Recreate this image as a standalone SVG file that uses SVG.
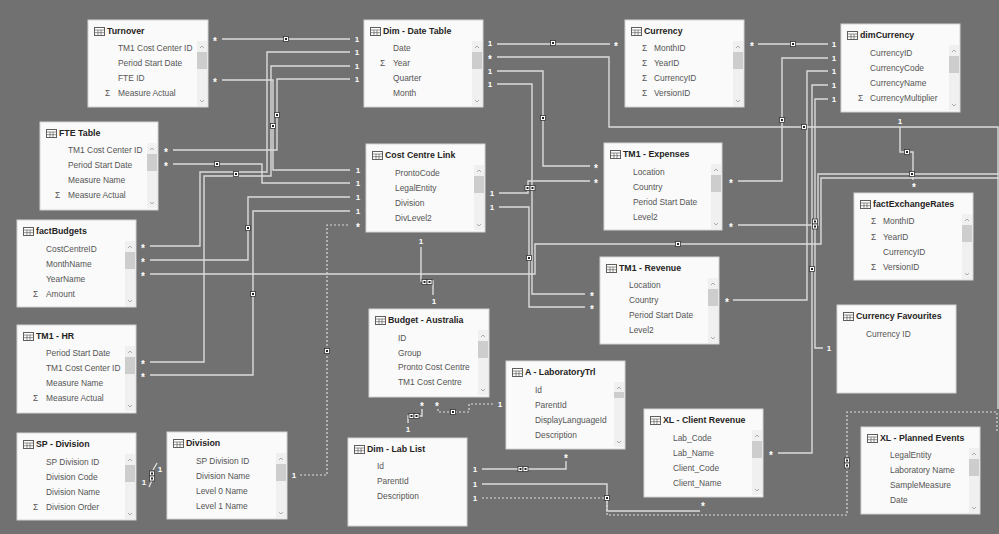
<svg xmlns="http://www.w3.org/2000/svg" width="999" height="534" viewBox="0 0 999 534">
<defs>
<style>
.bg{fill:#717171}
.box{fill:#fafafa;stroke:#d4d4d4;stroke-width:1}
.ttl{font-family:"Liberation Sans",Arial,sans-serif;font-weight:bold;font-size:8.8px;fill:#252423}
.f{font-family:"Liberation Sans",Arial,sans-serif;font-size:8.4px;fill:#555555}
.c{fill:none;stroke:#dcdcdc;stroke-width:1.4}
.d{fill:none;stroke:#dcdcdc;stroke-width:1.2;stroke-dasharray:2 2}
.lb{font-family:"Liberation Sans",Arial,sans-serif;font-weight:bold;font-size:8px;fill:#ffffff;text-anchor:middle}
.st{font-family:"Liberation Sans",Arial,sans-serif;font-weight:bold;font-size:10px;fill:#ffffff;text-anchor:middle}
</style>
<g id="ico">
<rect x="0.5" y="0.5" width="10" height="8" fill="#fff" stroke="#605e5c" stroke-width="1"/>
<path d="M0.5 3H10.5M0.5 5.7H10.5M4 3V8.5M7 3V8.5" stroke="#605e5c" stroke-width="0.7" fill="none"/>
</g>
<g id="sb">
<rect width="10" height="65" fill="#f0f0f0"/>
<rect y="11" width="10" height="17" fill="#cdcdcd"/>
<path d="M3 7L5 5L7 7" fill="none" stroke="#999" stroke-width="0.8"/>
<path d="M3 59L5 61L7 59" fill="none" stroke="#999" stroke-width="0.8"/>
</g>
<g id="mk"><rect x="-2.5" y="-2.5" width="5" height="5" fill="#fff" stroke="#333" stroke-width="0.8"/><rect x="-1" y="-1" width="2" height="2" fill="#222"/></g>
<g id="mk2"><use href="#mk" x="-2.5"/><use href="#mk" x="2.5"/></g>
<g id="mk2v"><use href="#mk" y="-2.5"/><use href="#mk" y="2.5"/></g>
</defs>
<rect class="bg" width="999" height="534"/>

<g id="connectors">
<path class="c" d="M222 39H350"/>
<path class="c" d="M222 80H273V170H350"/>
<path class="c" d="M173 150H277V79H350"/>
<path class="c" d="M173 164H262V183H350"/>
<path class="c" d="M150 246H200V172H267V52H350"/>
<path class="c" d="M150 362H204V176H271V66H350"/>
<path class="c" d="M150 260H248V197H350"/>
<path class="c" d="M150 375H253V211H350"/>
<path class="c" d="M150 274H535V244H821V178H999"/>
<path class="d" d="M300 475H327V225H350"/>
<path class="c" d="M149 487L152 480M153 470L157 463"/>
<path class="c" d="M497 44H610"/>
<path class="c" d="M497 57H609V127H998V409"/>
<path class="c" d="M497 71H543V166H590"/>
<path class="c" d="M497 84H532V294H585"/>
<path class="c" d="M499 193H528V181H590"/>
<path class="c" d="M499 207H529V307H585"/>
<path class="c" d="M421 247V281H433V295"/>
<path class="c" d="M422 409V416H408V423"/>
<path class="d" d="M438 409V412H469V404H495"/>
<path class="c" d="M482 469H566V461"/>
<path class="c" d="M482 484H607V511H700"/>
<path class="d" d="M482 498H607V515H847V412H997V431"/>
<path class="c" d="M758 44H828"/>
<path class="c" d="M828 58H782V181H738"/>
<path class="c" d="M828 71H807V300H733"/>
<path class="c" d="M828 85H812V453H778"/>
<path class="c" d="M828 99H815V348H823"/>
<path class="c" d="M900 127V152H913V180"/>
<path class="c" d="M738 225H818V174H999"/>
<use href="#mk" x="286" y="39"/>
<use href="#mk" x="273" y="126"/>
<use href="#mk" x="277" y="115"/>
<use href="#mk" x="217" y="164"/>
<use href="#mk" x="236" y="174"/>
<use href="#mk" x="248" y="228"/>
<use href="#mk" x="253" y="294"/>
<use href="#mk" x="327" y="351"/>
<use href="#mk2v" x="152" y="476"/>
<use href="#mk" x="553" y="43"/>
<use href="#mk" x="543" y="118"/>
<use href="#mk2" x="530" y="188"/>
<use href="#mk" x="529" y="258"/>
<use href="#mk" x="678" y="244"/>
<use href="#mk2" x="427" y="282"/>
<use href="#mk2" x="414" y="416"/>
<use href="#mk" x="453" y="412"/>
<use href="#mk2" x="523" y="469"/>
<use href="#mk" x="607" y="498"/>
<use href="#mk2v" x="847" y="463"/>
<use href="#mk" x="793" y="44"/>
<use href="#mk" x="782" y="120"/>
<use href="#mk" x="804" y="127"/>
<use href="#mk" x="812" y="269"/>
<use href="#mk2v" x="815" y="224"/>
<use href="#mk" x="907" y="152"/>
<use href="#mk" x="912" y="174"/>
</g>

<g id="labels">
<text class="st" x="215" y="45">*</text>
<text class="st" x="215" y="86">*</text>
<text class="st" x="166" y="156">*</text>
<text class="st" x="166" y="170">*</text>
<text class="st" x="143" y="252">*</text>
<text class="st" x="143" y="266">*</text>
<text class="st" x="143" y="280">*</text>
<text class="st" x="143" y="368">*</text>
<text class="st" x="143" y="381">*</text>
<text class="lb" x="357" y="42">1</text>
<text class="lb" x="357" y="55">1</text>
<text class="lb" x="357" y="69">1</text>
<text class="lb" x="357" y="82">1</text>
<text class="lb" x="358" y="173">1</text>
<text class="lb" x="358" y="186">1</text>
<text class="lb" x="358" y="200">1</text>
<text class="lb" x="358" y="214">1</text>
<text class="st" x="358" y="231">*</text>
<text class="lb" x="144" y="485">1</text>
<text class="lb" x="160" y="472">1</text>
<text class="lb" x="294" y="478">1</text>
<text class="lb" x="490" y="46">1</text>
<text class="st" x="490" y="63">*</text>
<text class="lb" x="490" y="74">1</text>
<text class="lb" x="490" y="87">1</text>
<text class="lb" x="492" y="196">1</text>
<text class="lb" x="492" y="210">1</text>
<text class="st" x="616" y="50">*</text>
<text class="st" x="596" y="172">*</text>
<text class="st" x="596" y="187">*</text>
<text class="st" x="592" y="300">*</text>
<text class="st" x="592" y="313">*</text>
<text class="st" x="731" y="187">*</text>
<text class="st" x="731" y="231">*</text>
<text class="st" x="727" y="306">*</text>
<text class="lb" x="421" y="244">1</text>
<text class="lb" x="434" y="304">1</text>
<text class="st" x="422" y="410">*</text>
<text class="st" x="437" y="410">*</text>
<text class="lb" x="408" y="432">1</text>
<text class="lb" x="500" y="407">1</text>
<text class="lb" x="475" y="472">1</text>
<text class="lb" x="475" y="487">1</text>
<text class="lb" x="475" y="501">1</text>
<text class="st" x="566" y="462">*</text>
<text class="st" x="703" y="510">*</text>
<text class="st" x="752" y="50">*</text>
<text class="lb" x="834" y="47">1</text>
<text class="lb" x="834" y="61">1</text>
<text class="lb" x="834" y="74">1</text>
<text class="lb" x="834" y="88">1</text>
<text class="lb" x="834" y="102">1</text>
<text class="lb" x="900" y="124">1</text>
<text class="st" x="914" y="191">*</text>
<text class="lb" x="829" y="351">1</text>
<text class="st" x="771" y="459">*</text>
</g>

<g id="turnover" transform="translate(88,20)">
<rect class="box" width="120" height="87"/><use href="#ico" x="6" y="7"/>
<text class="ttl" x="19" y="14">Turnover</text><use href="#sb" x="109" y="21"/>
<text class="f" x="30" y="31">TM1 Cost Center ID</text>
<text class="f" x="30" y="46">Period Start Date</text>
<text class="f" x="30" y="61">FTE ID</text>
<text class="f" x="17" y="76">Σ</text><text class="f" x="30" y="76">Measure Actual</text>
</g>
<g id="fte-table" transform="translate(40,122)">
<rect class="box" width="118" height="88"/><use href="#ico" x="6" y="7"/>
<text class="ttl" x="19" y="14">FTE Table</text><use href="#sb" x="107" y="21"/>
<text class="f" x="28" y="31">TM1 Cost Center ID</text>
<text class="f" x="28" y="46">Period Start Date</text>
<text class="f" x="28" y="61">Measure Name</text>
<text class="f" x="15" y="76">Σ</text><text class="f" x="28" y="76">Measure Actual</text>
</g>
<g id="factbudgets" transform="translate(17,220)">
<rect class="box" width="119" height="87"/><use href="#ico" x="6" y="7"/>
<text class="ttl" x="19" y="14">factBudgets</text><use href="#sb" x="108" y="21"/>
<text class="f" x="29" y="32">CostCentreID</text>
<text class="f" x="29" y="47">MonthName</text>
<text class="f" x="29" y="62">YearName</text>
<text class="f" x="16" y="77">Σ</text><text class="f" x="29" y="77">Amount</text>
</g>
<g id="tm1-hr" transform="translate(17,325)">
<rect class="box" width="119" height="88"/><use href="#ico" x="6" y="7"/>
<text class="ttl" x="19" y="14">TM1 - HR</text><use href="#sb" x="108" y="21"/>
<text class="f" x="29" y="31">Period Start Date</text>
<text class="f" x="29" y="46">TM1 Cost Center ID</text>
<text class="f" x="29" y="61">Measure Name</text>
<text class="f" x="16" y="76">Σ</text><text class="f" x="29" y="76">Measure Actual</text>
</g>
<g id="sp-division" transform="translate(17,433)">
<rect class="box" width="119" height="87"/><use href="#ico" x="6" y="7"/>
<text class="ttl" x="19" y="14">SP - Division</text><use href="#sb" x="108" y="21"/>
<text class="f" x="29" y="32">SP Division ID</text>
<text class="f" x="29" y="47">Division Code</text>
<text class="f" x="29" y="62">Division Name</text>
<text class="f" x="16" y="77">Σ</text><text class="f" x="29" y="77">Division Order</text>
</g>
<g id="division" transform="translate(167,432)">
<rect class="box" width="120" height="87"/><use href="#ico" x="6" y="7"/>
<text class="ttl" x="19" y="14">Division</text><use href="#sb" x="109" y="21"/>
<text class="f" x="29" y="32">SP Division ID</text>
<text class="f" x="29" y="47">Division Name</text>
<text class="f" x="29" y="62">Level 0 Name</text>
<text class="f" x="29" y="77">Level 1 Name</text>
</g>
<g id="dim-date-table" transform="translate(364,20)">
<rect class="box" width="119" height="87"/><use href="#ico" x="6" y="7"/>
<text class="ttl" x="19" y="14">Dim - Date Table</text><use href="#sb" x="108" y="21"/>
<text class="f" x="29" y="31">Date</text>
<text class="f" x="16" y="46">Σ</text><text class="f" x="29" y="46">Year</text>
<text class="f" x="29" y="61">Quarter</text>
<text class="f" x="29" y="76">Month</text>
</g>
<g id="cost-centre-link" transform="translate(366,144)">
<rect class="box" width="119" height="88"/><use href="#ico" x="6" y="7"/>
<text class="ttl" x="19" y="14">Cost Centre Link</text><use href="#sb" x="108" y="21"/>
<text class="f" x="29" y="32">ProntoCode</text>
<text class="f" x="29" y="47">LegalEntity</text>
<text class="f" x="29" y="62">Division</text>
<text class="f" x="29" y="77">DivLevel2</text>
</g>
<g id="budget-australia" transform="translate(369,309)">
<rect class="box" width="120" height="88"/><use href="#ico" x="6" y="7"/>
<text class="ttl" x="19" y="14">Budget - Australia</text><use href="#sb" x="109" y="21"/>
<text class="f" x="29" y="32">ID</text>
<text class="f" x="29" y="47">Group</text>
<text class="f" x="29" y="61">Pronto Cost Centre</text>
<text class="f" x="29" y="76">TM1 Cost Centre</text>
</g>
<g id="dim-lab-list" transform="translate(348,438)">
<rect class="box" width="119" height="88"/><use href="#ico" x="6" y="7"/>
<text class="ttl" x="19" y="14">Dim - Lab List</text>
<text class="f" x="29" y="31">Id</text>
<text class="f" x="29" y="46">ParentId</text>
<text class="f" x="29" y="61">Description</text>
</g>
<g id="a-laboratorytrl" transform="translate(506,361)">
<rect class="box" width="119" height="88"/><use href="#ico" x="6" y="7"/>
<text class="ttl" x="19" y="14">A - LaboratoryTrl</text>
<rect x="108" y="21" width="10" height="65" fill="#f0f0f0"/><rect x="108" y="31" width="10" height="6" fill="#cdcdcd"/>
<path d="M111 28L113 26L115 28M111 80L113 82L115 80" fill="none" stroke="#999" stroke-width="0.8"/>
<text class="f" x="29" y="32">Id</text>
<text class="f" x="29" y="47">ParentId</text>
<text class="f" x="29" y="62">DisplayLanguageId</text>
<text class="f" x="29" y="77">Description</text>
</g>
<g id="xl-client-revenue" transform="translate(644,409)">
<rect class="box" width="119" height="88"/><use href="#ico" x="6" y="7"/>
<text class="ttl" x="19" y="14">XL - Client Revenue</text><use href="#sb" x="108" y="21"/>
<text class="f" x="29" y="32">Lab_Code</text>
<text class="f" x="29" y="47">Lab_Name</text>
<text class="f" x="29" y="62">Client_Code</text>
<text class="f" x="29" y="77">Client_Name</text>
</g>
<g id="currency" transform="translate(625,20)">
<rect class="box" width="119" height="87"/><use href="#ico" x="6" y="7"/>
<text class="ttl" x="19" y="14">Currency</text><use href="#sb" x="108" y="21"/>
<text class="f" x="17" y="31">Σ</text><text class="f" x="29" y="31">MonthID</text>
<text class="f" x="17" y="46">Σ</text><text class="f" x="29" y="46">YearID</text>
<text class="f" x="17" y="61">Σ</text><text class="f" x="29" y="61">CurrencyID</text>
<text class="f" x="17" y="76">Σ</text><text class="f" x="29" y="76">VersionID</text>
</g>
<g id="tm1-expenses" transform="translate(604,143)">
<rect class="box" width="118" height="87"/><use href="#ico" x="6" y="7"/>
<text class="ttl" x="19" y="14">TM1 - Expenses</text><use href="#sb" x="107" y="21"/>
<text class="f" x="29" y="32">Location</text>
<text class="f" x="29" y="47">Country</text>
<text class="f" x="29" y="62">Period Start Date</text>
<text class="f" x="29" y="77">Level2</text>
</g>
<g id="tm1-revenue" transform="translate(600,257)">
<rect class="box" width="119" height="87"/><use href="#ico" x="6" y="7"/>
<text class="ttl" x="19" y="14">TM1 - Revenue</text><use href="#sb" x="108" y="21"/>
<text class="f" x="29" y="31">Location</text>
<text class="f" x="29" y="46">Country</text>
<text class="f" x="29" y="61">Period Start Date</text>
<text class="f" x="29" y="76">Level2</text>
</g>
<g id="dimcurrency" transform="translate(841,24)">
<rect class="box" width="119" height="88"/><use href="#ico" x="6" y="7"/>
<text class="ttl" x="19" y="14">dimCurrency</text><use href="#sb" x="108" y="21"/>
<text class="f" x="29" y="32">CurrencyID</text>
<text class="f" x="29" y="47">CurrencyCode</text>
<text class="f" x="29" y="62">CurrencyName</text>
<text class="f" x="17" y="77">Σ</text><text class="f" x="29" y="77">CurrencyMultiplier</text>
</g>
<g id="factexchangerates" transform="translate(854,193)">
<rect class="box" width="119" height="87"/><use href="#ico" x="6" y="7"/>
<text class="ttl" x="19" y="14">factExchangeRates</text><use href="#sb" x="108" y="21"/>
<text class="f" x="17" y="31">Σ</text><text class="f" x="29" y="31">MonthID</text>
<text class="f" x="17" y="47">Σ</text><text class="f" x="29" y="47">YearID</text>
<text class="f" x="29" y="62">CurrencyID</text>
<text class="f" x="17" y="77">Σ</text><text class="f" x="29" y="77">VersionID</text>
</g>
<g id="currency-favourites" transform="translate(837,305)">
<rect class="box" width="119" height="88"/><use href="#ico" x="6" y="7"/>
<text class="ttl" x="19" y="14">Currency Favourites</text>
<text class="f" x="29" y="32">Currency ID</text>
</g>
<g id="xl-planned-events" transform="translate(861,427)">
<rect class="box" width="119" height="87"/><use href="#ico" x="6" y="7"/>
<text class="ttl" x="19" y="14">XL - Planned Events</text><use href="#sb" x="108" y="21"/>
<text class="f" x="29" y="31">LegalEntity</text>
<text class="f" x="29" y="46">Laboratory Name</text>
<text class="f" x="29" y="61">SampleMeasure</text>
<text class="f" x="29" y="76">Date</text>
</g>
</svg>
